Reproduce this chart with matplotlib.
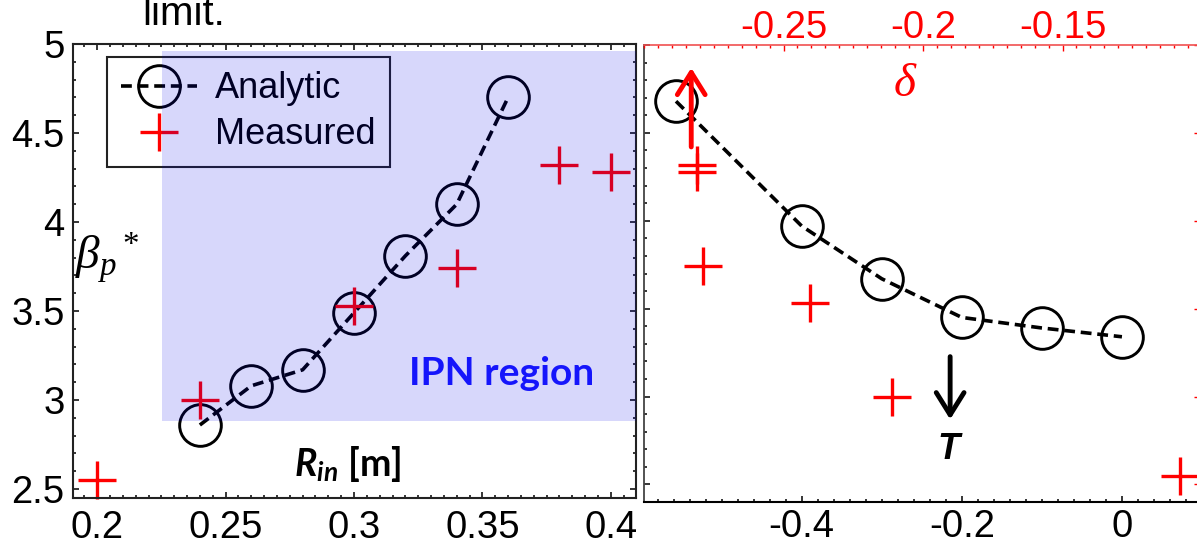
import matplotlib
matplotlib.use('Agg')
import matplotlib.pyplot as plt
from matplotlib.patches import Rectangle
from matplotlib.ticker import MultipleLocator, FixedLocator, FuncFormatter

plt.rcParams['font.family'] = 'Liberation Sans'
plt.rcParams['axes.unicode_minus'] = False
plt.rcParams['mathtext.fontset'] = 'custom'
plt.rcParams['mathtext.it'] = 'Liberation Serif:italic'
plt.rcParams['mathtext.rm'] = 'Liberation Serif'
plt.rcParams['mathtext.bfit'] = 'Lato:bold:italic'

# left panel: beta_p* vs inner radius
r_in_analytic = [0.24, 0.26, 0.28, 0.30, 0.32, 0.34, 0.36]
beta_analytic_r = [2.86, 3.08, 3.17, 3.49, 3.81, 4.10, 4.70]
r_in_measured = [0.20, 0.24, 0.30, 0.34, 0.38, 0.40]
beta_measured = [2.55, 3.00, 3.53, 3.74, 4.32, 4.28]

# right panel: beta_p* vs triangularity (analytic) and delta (measured)
tri_analytic = [-0.557, -0.40, -0.30, -0.20, -0.10, 0.0]
beta_analytic_t = [4.68, 3.97, 3.67, 3.45, 3.39, 3.34]
delta_measured = [-0.108, -0.211, -0.2405, -0.279, -0.281, -0.281]

# IPN shaded box (R_in from, R_in to, beta from, beta to)
ipn_box = [0.2254, 0.41, 2.88, 4.96]

W, H = 1197, 545
FS = 27.5
RED = '#ff0000'


def fmt(v, pos):
    return f'{round(v, 6) + 0:g}'


dash = (0, (3, 1.6))
analytic_style = dict(color='k', ls=dash, lw=2.6, marker='o', ms=30,
                      mfc='none', mec='k', mew=2.1)
measured_style = dict(ls='none', marker='+', ms=28, mew=2.4, color=RED,
                      clip_on=False)

fig = plt.figure(figsize=(W / 100, H / 100), dpi=100)
axL = fig.add_axes([73 / W, 47 / H, 563 / W, 454 / H])
axR = fig.add_axes([644 / W, 43 / H, 558 / W, 457 / H])

# ---- left panel
axL.plot(r_in_analytic, beta_analytic_r, label='Analytic', **analytic_style)
axL.plot(r_in_measured, beta_measured, label='Measured', **measured_style)
axL.set_xlim(0.1906, 0.4098)
axL.set_ylim(2.45, 5.0)
axL.xaxis.set_major_locator(MultipleLocator(0.05))
axL.xaxis.set_minor_locator(MultipleLocator(0.005))
axL.yaxis.set_major_locator(MultipleLocator(0.5))
axL.yaxis.set_minor_locator(MultipleLocator(0.1))
axL.xaxis.set_major_formatter(FuncFormatter(fmt))
axL.yaxis.set_major_formatter(FuncFormatter(fmt))
axL.tick_params(which='both', direction='in', top=True, right=True,
                width=1.1, labelsize=FS)
axL.tick_params(which='major', length=4.5)
axL.tick_params(which='minor', length=2.2)
axL.tick_params(axis='x', pad=9)
axL.tick_params(axis='y', pad=6)
for s in axL.spines.values():
    s.set_linewidth(1.5)
    s.set_color('#222222')

leg = axL.legend(loc='upper left', bbox_to_anchor=(34 / 563, 441 / 454),
                 borderaxespad=0, fontsize=26, fancybox=False,
                 edgecolor='#222222', facecolor='none', framealpha=1,
                 handlelength=2.1, handletextpad=0.5, borderpad=0.4,
                 labelspacing=0.3, numpoints=1)
leg.get_frame().set_linewidth(1.5)

axL.text(0.3574, 3.084, 'IPN region', color='#1a1aff', fontsize=28,
         fontweight='bold', family='Lato', ha='center', va='baseline')
axL.text(0.2766, 2.573, r'$\mathbfit{R}_{\mathbfit{in}}$ [m]', fontsize=27,
         fontweight='bold', family='Lato', ha='left', va='baseline')
axL.text(0.003, 3.80, r'$\beta_p{}^*$', fontsize=34, ha='left', va='center',
         transform=axL.get_yaxis_transform())

axL.add_patch(Rectangle((ipn_box[0], ipn_box[2]), ipn_box[1] - ipn_box[0],
                        ipn_box[3] - ipn_box[2], facecolor=(0, 0, 0.92),
                        alpha=0.155, edgecolor='none', zorder=10))

# ---- right panel
axR.plot(tri_analytic, beta_analytic_t, **analytic_style)
axR.set_xlim(-0.597, 0.1)
axR.set_ylim(2.40, 5.0)
axR.xaxis.set_major_locator(MultipleLocator(0.2))
axR.xaxis.set_minor_locator(MultipleLocator(0.02))
axR.yaxis.set_major_locator(MultipleLocator(0.5))
axR.yaxis.set_minor_locator(MultipleLocator(0.1))
axR.xaxis.set_major_formatter(FuncFormatter(fmt))
axR.tick_params(which='both', direction='in', top=False, right=False,
                labelleft=False, width=1.1, labelsize=FS)
axR.tick_params(which='major', length=4.5)
axR.tick_params(which='minor', length=2.2)
axR.tick_params(axis='x', pad=5)
axR.spines['top'].set_visible(False)
axR.spines['right'].set_visible(False)
axR.spines['left'].set_color('#444444')
axR.spines['left'].set_linewidth(1.3)
axR.spines['bottom'].set_linewidth(1.5)

axT = axR.twiny()
axT.plot(delta_measured, beta_measured, **measured_style)
axT.set_xlim(-0.3, -0.1)
axT.xaxis.set_major_locator(FixedLocator([-0.25, -0.2, -0.15]))
axT.xaxis.set_minor_locator(MultipleLocator(0.005))
axT.xaxis.set_major_formatter(FuncFormatter(fmt))
axT.tick_params(axis='x', which='both', direction='in', colors=RED,
                labelsize=FS, pad=-1, width=1.0)
axT.tick_params(axis='x', which='major', length=4.5)
axT.tick_params(axis='x', which='minor', length=2.2)
axT.yaxis.set_visible(True)
axT.yaxis.tick_right()
axT.tick_params(axis='y', which='major', direction='in', right=True,
                left=False, labelright=False, labelleft=False, colors=RED,
                length=6, width=1.0)
axT.tick_params(axis='y', which='minor', right=False, left=False)
for side in ['left', 'bottom', 'right']:
    axT.spines[side].set_visible(False)
axT.spines['top'].set_color('#f05050')
axT.spines['top'].set_linewidth(1.2)

axR.annotate('', xy=(-0.538, 4.87), xytext=(-0.538, 4.42),
             arrowprops=dict(arrowstyle='->,head_length=0.8,head_width=0.5',
                             color=RED, lw=3.5, shrinkA=0, shrinkB=0,
                             mutation_scale=20))
axR.annotate('', xy=(-0.2146, 2.87), xytext=(-0.2146, 3.227),
             arrowprops=dict(arrowstyle='->,head_length=0.8,head_width=0.5',
                             color='k', lw=3.5, shrinkA=0, shrinkB=0,
                             mutation_scale=20))
axR.text(-0.27, 4.78, r'$\delta$', color=RED, fontsize=34,
         ha='center', va='center')
axR.text(-0.217, 2.70, 'T', fontsize=26, fontweight='bold', style='italic',
         ha='center', va='center')

fig.text(142 / W, 1 - 25 / H, 'limit.', fontsize=29, ha='left', va='baseline')

fig.savefig('out.png', dpi=100)
